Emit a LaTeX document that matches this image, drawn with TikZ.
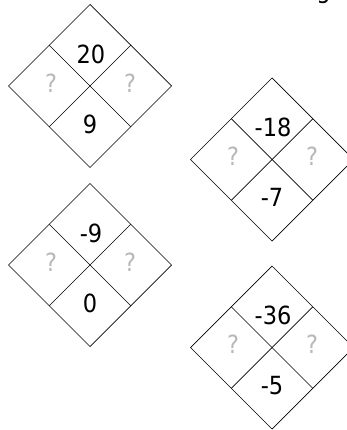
\documentclass[tikz,border=0pt]{standalone}
\usepackage{fontspec}
\setmainfont{DejaVu Sans Condensed}
\begin{document}
\begin{tikzpicture}[x=1pt,y=-1pt,
  dline/.style={draw=black,line width=0.7pt,line join=miter},
  num/.style={inner sep=0pt,font=\fontsize{25}{30}\selectfont,text=black},
  qmark/.style={inner sep=0pt,font=\fontsize{25}{30}\selectfont,text=black!28}]
\useasboundingbox (0,0) rectangle (347,430);
\foreach \cx/\cy/\t/\b/\n in {90/86/20/9/a, 272/159.5/-18/-7/b, 90/265/-9/0/c, 272/347.5/-36/-5/d} {
  \draw[dline] (\cx-81.5,\cy) -- (\cx,\cy-81.5) -- (\cx+81.5,\cy) -- (\cx,\cy+81.5) -- cycle;
  \draw[dline] (\cx-40.75,\cy-40.75) -- (\cx+40.75,\cy+40.75);
  \draw[dline] (\cx+40.75,\cy-40.75) -- (\cx-40.75,\cy+40.75);
  \node[num] (\n top) at (\cx+1,\cy-32) {\t};
  \node[num] (\n bot) at (\cx,\cy+38) {\b};
  \node[qmark] (\n left) at (\cx-39,\cy-3) {?};
  \node[qmark] (\n right) at (\cx+40,\cy-3) {?};
}
\node[num,anchor=base] (cut) at (323.5,-1.5) {g};
\end{tikzpicture}
\end{document}
